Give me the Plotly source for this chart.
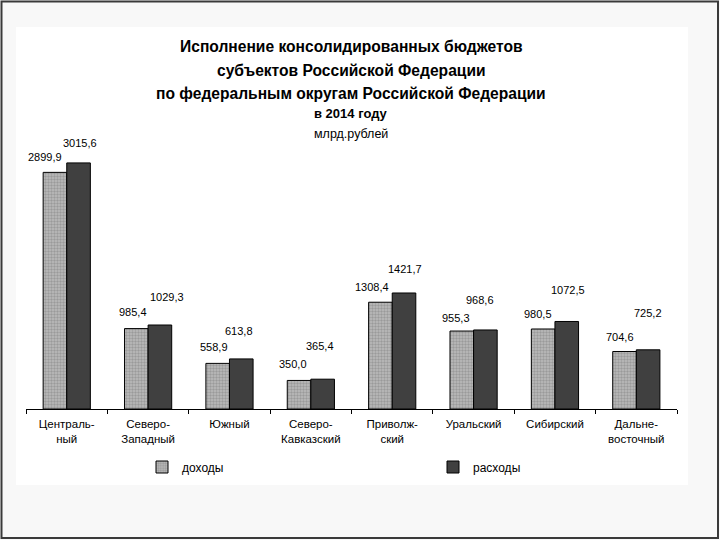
import plotly.graph_objects as go

categories = ["Централь-<br>ный", "Северо-<br>Западный", "Южный", "Северо-<br>Кавказский",
              "Приволж-<br>ский", "Уральский", "Сибирский", "Дальне-<br>восточный"]
income = [2899.9, 985.4, 558.9, 350.0, 1308.4, 955.3, 980.5, 704.6]
expense = [3015.6, 1029.3, 613.8, 365.4, 1421.7, 968.6, 1072.5, 725.2]
series_names = ["доходы", "расходы"]

# label placement offsets (pixels) relative to bar top / bar centre, as hand-placed in the original
income_label_dx = [-10, -3, -4, -6, -8, -6, -5, -5]
income_label_dy = [15, 17, 16, 16, 15, 13, 15, 15]
expense_label_dx = [1, 7, -2, -3, 1, -5, 1, 0]
expense_label_dy = [20, 28, 28, 33, 24, 30, 31, 37]
BAR_HALF = 11.75

FONT = "Liberation Sans, Arial, sans-serif"

def fmt(v):
    return f"{v:.1f}".replace(".", ",")

fig = go.Figure()
fig.add_trace(go.Bar(
    x=categories, y=income, name=series_names[0], legend="legend",
    marker=dict(color="#aaaaaa", line=dict(color="#000000", width=1),
                pattern=dict(shape=".", size=3, solidity=0.5, fgcolor="#777777", bgcolor="#bdbdbd")),
))
fig.add_trace(go.Bar(
    x=categories, y=expense, name=series_names[1], legend="legend2",
    marker=dict(color="#404040", line=dict(color="#000000", width=1)),
))

annotations = []
for c, v, dx, dy in zip(categories, income, income_label_dx, income_label_dy):
    annotations.append(dict(x=c, y=v, xref="x", yref="y", text=fmt(v), showarrow=False,
                            xanchor="center", yanchor="middle", xshift=-BAR_HALF + dx, yshift=dy,
                            font=dict(family=FONT, size=11, color="#000")))
for c, v, dx, dy in zip(categories, expense, expense_label_dx, expense_label_dy):
    annotations.append(dict(x=c, y=v, xref="x", yref="y", text=fmt(v), showarrow=False,
                            xanchor="center", yanchor="middle", xshift=BAR_HALF + dx, yshift=dy,
                            font=dict(family=FONT, size=11, color="#000")))

def py(p):
    return (409 - p) / 279.0

def px(p):
    return (p - 26) / 651.0

title_lines = [
    ("Исполнение консолидированных бюджетов", 47, 15.6, True),
    ("субъектов Российской Федерации", 71, 15.6, True),
    ("по федеральным округам Российской Федерации", 94, 15.6, True),
    ("в 2014 году", 114, 13, True),
    ("млрд.рублей", 134, 12.5, False),
]
for t, yy, sz, bold in title_lines:
    annotations.append(dict(x=px(351), y=py(yy), xref="paper", yref="paper",
                            text=f"<b>{t}</b>" if bold else t, showarrow=False,
                            xanchor="center", yanchor="middle",
                            font=dict(family=FONT, size=sz, color="#000")))

shapes = [
    dict(type="rect", xref="paper", yref="paper", x0=px(16), x1=px(688), y0=py(485), y1=py(27),
         fillcolor="#ffffff", line=dict(width=0), layer="below"),
    dict(type="rect", xref="paper", yref="paper", x0=px(1.5), x1=px(718), y0=py(538), y1=py(1.5),
         fillcolor="rgba(0,0,0,0)", line=dict(width=2, color="#3a3a3a"), layer="above"),
]

legend_common = dict(orientation="h", xanchor="left", yanchor="middle",
                     bgcolor="rgba(0,0,0,0)", itemwidth=30,
                     font=dict(family=FONT, size=12, color="#000"))

fig.update_layout(
    width=720, height=540,
    margin=dict(l=26, r=43, t=130, b=131),
    paper_bgcolor="#f8f8f8", plot_bgcolor="rgba(0,0,0,0)",
    barmode="group", bargap=0.42, bargroupgap=0,
    showlegend=True,
    legend=dict(x=px(142), y=py(467), **legend_common),
    legend2=dict(x=px(433), y=py(467), **legend_common),
    annotations=annotations, shapes=shapes,
    xaxis=dict(showline=True, linecolor="#000", linewidth=1, ticks="outside", tickson="boundaries",
               ticklen=4, tickcolor="#000", showgrid=False, ticklabelstandoff=4,
               tickfont=dict(family=FONT, size=11.5, color="#000")),
    yaxis=dict(range=[0, 3419], visible=False, showgrid=False, zeroline=False),
)

fig.write_html("out.html", config={"displayModeBar": False},
               post_script="document.body.style.margin='0';document.body.style.overflow='hidden';")
